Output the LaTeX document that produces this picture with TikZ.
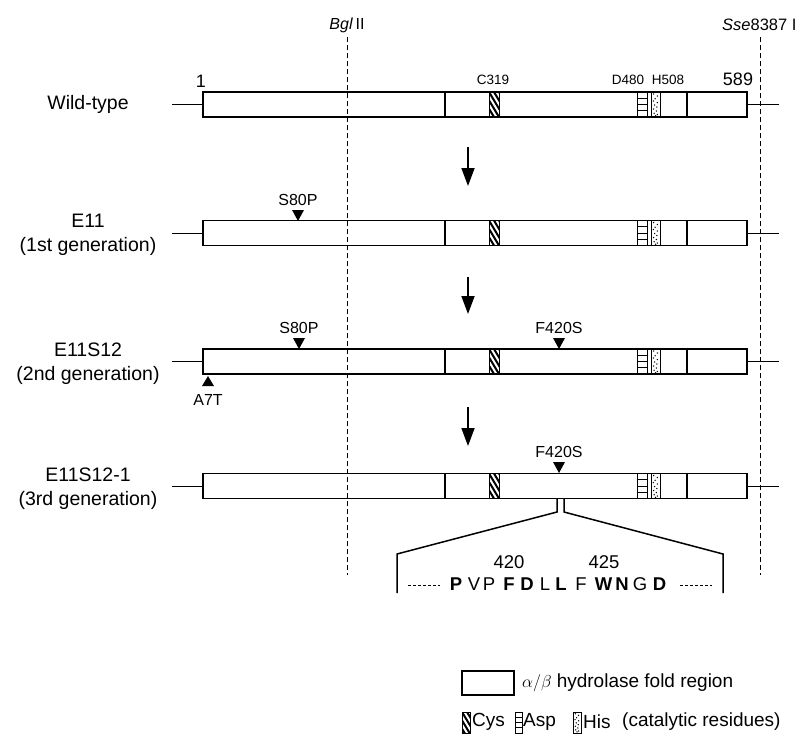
\documentclass[tikz,border=0pt]{standalone}
\usepackage{fontspec}
\setmainfont{Liberation Sans}
\usetikzlibrary{arrows.meta,calc}

\tikzset{
  barbox/.style={draw, line width=1.2pt, minimum width=544pt, minimum height=25pt, inner sep=0pt},
  barline/.style={line width=1.1pt},
  resline/.style={line width=0.9pt},
  stub/.style={line width=1pt},
  site/.style={line width=1pt, dash pattern=on 5pt off 3pt},
  genarrow/.style={line width=1.8pt, -{Triangle[length=18pt,width=13pt]}},
  zoomline/.style={line width=1.5pt},
  rowlab/.style={font=\fontsize{19.5}{24}\selectfont, align=center},
  reslab/.style={font=\fontsize{13.5}{15}\selectfont},
  mutlab/.style={font=\fontsize{16}{18}\selectfont},
  numlab/.style={font=\fontsize{18}{20}\selectfont},
  seqlab/.style={font=\fontsize{18.5}{22}\selectfont, inner sep=0pt},
  leglab/.style={font=\fontsize{19}{22}\selectfont, anchor=west, inner sep=0pt}
}

% residue boxes: x1, y1, x2, y2
\newcommand{\cysbox}[4]{%
  \begin{scope}
    \clip (#1,#2) rectangle (#3,#4);
    \foreach \s in {-20,-15,...,10}
      \draw[line width=2pt] ({#1+\s},#2) -- ++(15,25);
  \end{scope}
  \draw[resline] (#1,#2) rectangle (#3,#4);}
\newcommand{\aspbox}[4]{%
  \draw[resline] (#1,#2) rectangle (#3,#4);
  \foreach \f in {0.25,0.5,0.75}
    \draw[resline] (#1,{#2+\f*(#4-#2)}) -- (#3,{#2+\f*(#4-#2)});}
\newcommand{\hisbox}[4]{%
  \draw[resline] (#1,#2) rectangle (#3,#4);
  \foreach \a/\b in {.3/.08,.7/.16,.45/.27,.25/.36,.7/.42,.4/.52,.65/.6,
                     .3/.68,.6/.76,.35/.85,.7/.9,.5/.95}
    \fill ({#1+\a*(#3-#1)},{#2+\b*(#4-#2)}) circle (0.75pt);}
\newcommand{\mutdown}[2]{\fill (#1,#2) -- ++(-6,-11) -- ++(12,0) -- cycle;}
\newcommand{\mutup}[2]{\fill (#1,#2) -- ++(-6,10) -- ++(12,0) -- cycle;}
\newcommand{\seqb}{\bfseries}
\newcommand{\seqm}{\mdseries}

\begin{document}
\begin{tikzpicture}[x=1pt, y=-1pt]
  \useasboundingbox (0,0) rectangle (796,734);

  % restriction sites
  \draw[site] (347,37) -- (347,575);
  \draw[site] (760,37) -- (760,575);
  \node[mutlab] (bgl) at (347,25) {\textit{Bgl}\,II};
  \node[mutlab, anchor=west, inner sep=0pt, font=\fontsize{16.5}{18}\selectfont] (sse) at (722,25) {\textit{Sse}8387 I};

  % the four proteins
  \foreach \n/\y in {wt/104.5, eone/233, etwo/361.5, ethree/486}{
    \node[barbox] (\n) at (475,\y) {};
    \draw[stub] (\n.west) -- ++(-30,0);
    \draw[stub] (\n.east) -- ++(31,0);
    \begin{scope}[shift={(0,\y)}]
      \draw[barline] (445,-12.5) -- (445,12.5) (687,-12.5) -- (687,12.5);
      \cysbox{489}{-12.5}{499}{12.5}
      \aspbox{637}{-12.5}{647}{12.5}
      \hisbox{651}{-12.5}{660}{12.5}
    \end{scope}
  }

  \node[rowlab] (wtlab) at (88,104.5) {Wild-type};
  \node[rowlab] (eonelab) at (88,235) {E11\\(1st generation)};
  \node[rowlab] (etwolab) at (88,363.5) {E11S12\\(2nd generation)};
  \node[rowlab] (ethreelab) at (88,488.5) {E11S12-1\\(3rd generation)};

  \node[numlab] (first) at (201,81) {1};
  \node[numlab] (last) at (738,79) {589};
  \node[reslab] (cys) at (493,80) {C319};
  \node[reslab] (asp) at (628,80) {D480};
  \node[reslab] (his) at (668,80) {H508};

  % generations
  \coordinate (aone) at (468,147);  \coordinate (bone) at (468,186);
  \coordinate (atwo) at (468,277);  \coordinate (btwo) at (468,314);
  \coordinate (athree) at (468,407); \coordinate (bthree) at (468,446);
  \draw[genarrow] (aone) -- (bone);
  \draw[genarrow] (atwo) -- (btwo);
  \draw[genarrow] (athree) -- (bthree);

  % mutations
  \mutdown{298}{221}  \node[mutlab] (mone) at (298,200) {S80P};
  \mutdown{299}{349}  \node[mutlab] (mtwo) at (299,328) {S80P};
  \mutdown{559}{349}  \node[mutlab] (mthree) at (559,328) {F420S};
  \mutup{208}{376}    \node[mutlab] (mfour) at (208,400) {A7T};
  \mutdown{559}{473}  \node[mutlab] (mfive) at (559,452) {F420S};

  % close-up of the sequence
  \draw[zoomline] (557,499) -- (557,512) -- (397,554) -- (397,593);
  \draw[zoomline] (564,499) -- (564,512) -- (723,554) -- (723,593);
  \node[seqlab] (nfour) at (509,562) {420};
  \node[seqlab] (nfive) at (604,562) {425};
  \draw[line width=1pt, dash pattern=on 3pt off 2pt] (408,585) -- (440,585);
  \draw[line width=1pt, dash pattern=on 3pt off 2pt] (680,585) -- (712,585);
  \foreach \c/\xx/\w [count=\i] in {P/456/b, V/474/m, P/489/m, F/509/b, D/527/b, L/545/m,
                                  L/561/b, F/581/m, W/603.5/b, N/622/b, G/640/m, D/659.5/b}
    \node[seqlab] (aa\i) at (\xx,584) {\csname seq\w\endcsname\c};

  % legend
  \draw[barline] (462,671) rectangle (514,695);
  \node[leglab] (legfold) at (522,683) {$\alpha/\beta$ hydrolase fold region};
  \cysbox{462}{712}{470}{733}
  \node[leglab] (legcys) at (472,722) {Cys};
  \aspbox{515}{712}{522}{733}
  \node[leglab] (legasp) at (523,722) {Asp};
  \hisbox{573}{712}{581}{733}
  \node[leglab] (leghis) at (583,722) {His};
  \node[leglab] (legcat) at (622,722) {(catalytic residues)};
\end{tikzpicture}
\end{document}
